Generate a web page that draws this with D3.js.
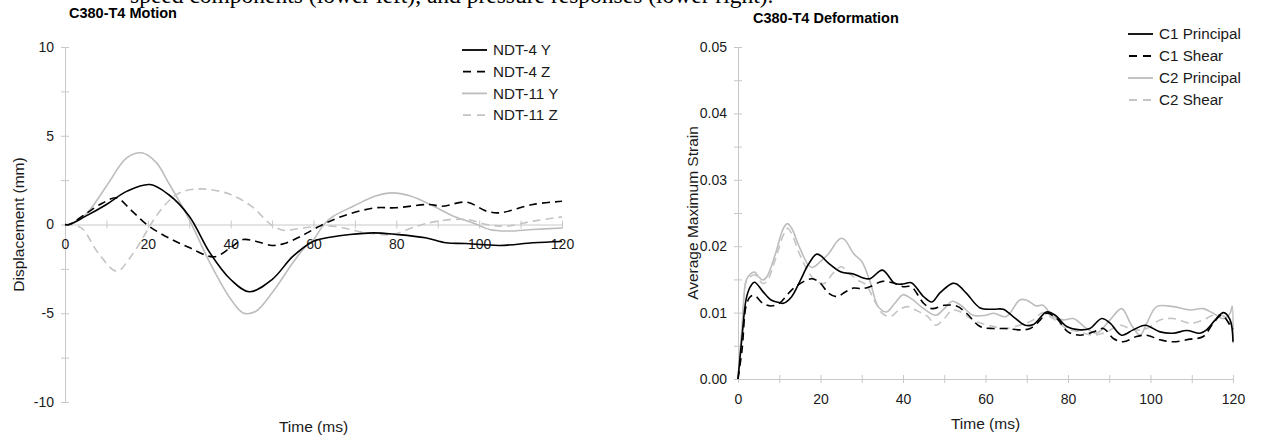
<!DOCTYPE html>
<html>
<head>
<meta charset="utf-8">
<script src="https://cdn.jsdelivr.net/npm/d3@7"></script>
<style>
  html, body { margin: 0; padding: 0; background: #fff; }
  svg { display: block; font-family: "Liberation Sans", Arial, sans-serif; }
</style>
</head>
<body>
<svg id="chart" width="1261" height="437"></svg>
<script>
// ---- data: motion panel (time ms, displacement mm) ----
const ndt4Y = [[0,0],[1,0],[5,0.47],[10,1.13],[15,1.88],[20.5,2.25],[25,1.69],[30,0.47],[35,-1.6],[40,-3.1],[44.5,-3.79],[50,-3.1],[55,-1.8],[60,-0.94],[64,-0.72],[68.8,-0.56],[74.5,-0.47],[80,-0.56],[87,-0.75],[92,-1.03],[96.6,-1.07],[105,-1.18],[113,-1.03],[120,-0.96]];
const ndt4Z = [[0,0],[1,0],[5,0.6],[9,1.2],[12.5,1.5],[16,0.8],[20,-0.05],[25,-0.75],[30,-1.3],[36,-1.82],[40,-1.3],[43,-0.85],[46,-0.94],[50,-1.18],[53,-1.07],[57,-0.66],[61.5,-0.09],[67,0.47],[75,0.94],[79.7,0.94],[88,1.13],[91,1.03],[97,1.26],[101.8,0.75],[105,0.66],[113,1.13],[120,1.31]];
const ndt11Y = [[0,0],[1,0],[5,0.56],[10,2.16],[14.9,3.75],[18.5,4.04],[22,3.5],[25,2.35],[30,0.28],[35,-2.16],[40,-4.2],[43,-4.98],[46,-4.9],[50,-3.85],[55,-2.16],[57.5,-1.4],[60,-0.85],[62.5,0.0],[64.7,0.45],[69.6,1.03],[75,1.6],[79,1.78],[83.4,1.6],[89,1.03],[93.8,0.47],[98.5,0.09],[102.5,-0.28],[106.6,-0.37],[113,-0.28],[120,-0.2]];
const ndt11Z = [[0,0],[1,0],[4,-0.2],[8,-1.6],[12.5,-2.63],[16,-1.78],[20,-0.28],[22,0.47],[25,1.31],[28,1.82],[31.8,2.0],[35,1.97],[40,1.69],[45,1.03],[50,-0.05],[53,-0.34],[55,-0.28],[60,-0.13],[64.7,-0.09],[72.8,-0.47],[79,-0.56],[85,-0.09],[90,0.19],[97,0.28],[101.8,0.0],[106.6,-0.09],[113,0.19],[120,0.43]];

// ---- data: deformation panel (time ms, average maximum strain) ----
const c1Principal = [[0,0],[1,0.0065],[2,0.0121],[3,0.0139],[4,0.01456],[6,0.0132],[8,0.0119],[10,0.0115],[11,0.0114],[13,0.0124],[15,0.0147],[17,0.0172],[19,0.0188],[20,0.0186],[22,0.0174],[25,0.0161],[28,0.0158],[30,0.0153],[32,0.0151],[35,0.0164],[38,0.0144],[40,0.0143],[42,0.0145],[45,0.0124],[47,0.0116],[49,0.0130],[52,0.0144],[53,0.0143],[55.4,0.0129],[58.7,0.0107],[61.9,0.0105],[64.3,0.0105],[66.7,0.0094],[69.6,0.0081],[71.6,0.0082],[74.8,0.0101],[76.9,0.0096],[79.7,0.0079],[82.9,0.0074],[85.3,0.0076],[88.2,0.0091],[90.2,0.0084],[93,0.0066],[95.8,0.0074],[98.7,0.0081],[102.3,0.0071],[105.5,0.0069],[108.8,0.0073],[112,0.0069],[113.6,0.0074],[115.7,0.0089],[117.7,0.0100],[119.3,0.0089],[120,0.0056]];
const c1Shear = [[0,0],[1,0.0045],[2,0.0111],[3,0.0124],[4,0.0126],[6,0.0114],[8,0.0110],[10,0.0114],[13,0.0134],[16,0.0147],[18,0.0151],[20,0.0144],[22,0.0129],[24,0.0124],[26,0.0131],[28,0.0137],[30,0.0136],[32,0.0139],[35,0.0147],[38,0.0144],[40,0.0139],[42,0.0139],[45,0.0114],[47,0.0106],[50,0.0111],[53,0.0110],[55.4,0.0099],[58.7,0.0079],[61.9,0.0076],[65,0.0076],[68.3,0.0074],[70.8,0.0076],[73.3,0.0089],[74.8,0.0099],[77.3,0.0091],[80,0.0071],[82.9,0.0066],[86.2,0.0071],[88.6,0.0076],[91,0.0061],[93.4,0.0056],[96.6,0.0064],[99.1,0.0066],[102.3,0.0059],[105.5,0.0056],[109.6,0.0060],[112.8,0.0064],[115.2,0.0084],[117.3,0.0096],[119.3,0.0081],[120,0.0075]];
const c2Principal = [[0,0],[1,0.0080],[2,0.0149],[3,0.0158],[4,0.0161],[5,0.0154],[6,0.0149],[7,0.0154],[9,0.0187],[11,0.0227],[12,0.0234],[13,0.0227],[15,0.0197],[17,0.0172],[18,0.0168],[20,0.0177],[22,0.0189],[24,0.0207],[25,0.0212],[26,0.0209],[28,0.0189],[30,0.0177],[32,0.0147],[34,0.0109],[36,0.0101],[38,0.0114],[40,0.0127],[42,0.0121],[45,0.0106],[48,0.0096],[50,0.0106],[52,0.0117],[54,0.0111],[57,0.0096],[60,0.0096],[62,0.0099],[65,0.0094],[68.3,0.0119],[69.9,0.0119],[72.3,0.0110],[73.9,0.0111],[76.4,0.0094],[78.9,0.0089],[81.3,0.0091],[84.5,0.0076],[86.9,0.0069],[90.2,0.0089],[93,0.0106],[95.4,0.0081],[97.5,0.0066],[99.1,0.0084],[101.5,0.0109],[105.5,0.0109],[109.6,0.0104],[112.8,0.0106],[115.2,0.0099],[117.7,0.0091],[119.3,0.0099],[119.8,0.0110],[120,0.0054]];
const c2Shear = [[0,0],[1,0.0075],[2,0.0147],[3,0.0154],[4,0.0157],[6,0.0144],[7,0.0147],[9,0.0179],[11,0.0217],[12,0.0227],[13,0.0219],[15,0.0187],[17,0.0162],[19,0.0147],[21,0.0144],[23,0.0159],[25,0.0169],[27,0.0159],[29,0.0149],[31,0.0142],[33,0.0119],[35,0.0099],[37,0.0094],[39,0.0104],[41,0.0109],[43,0.0104],[46,0.0094],[48,0.0081],[50,0.0091],[52,0.0104],[54,0.0101],[57,0.0089],[59,0.0084],[62,0.0079],[65,0.0076],[68.3,0.0081],[71.6,0.0089],[73.9,0.0100],[76.4,0.0091],[79.7,0.0076],[82.9,0.0071],[86.2,0.0066],[89.4,0.0071],[92.6,0.0081],[95.8,0.0074],[99.1,0.0076],[102.3,0.0089],[105.5,0.0091],[109.6,0.0084],[112.8,0.0089],[115.2,0.0096],[117.7,0.0095],[120,0.0079]];

const motionSeries = [
  { name: 'NDT-4 Y', values: ndt4Y, color: '#000', dash: null },
  { name: 'NDT-4 Z', values: ndt4Z, color: '#000', dash: '8,5' },
  { name: 'NDT-11 Y', values: ndt11Y, color: '#bdbdbd', dash: null },
  { name: 'NDT-11 Z', values: ndt11Z, color: '#c4c4c4', dash: '8,5' },
];
const strainSeries = [
  { name: 'C1 Principal', values: c1Principal, color: '#000', dash: null },
  { name: 'C1 Shear', values: c1Shear, color: '#000', dash: '8,5' },
  { name: 'C2 Principal', values: c2Principal, color: '#bdbdbd', dash: null },
  { name: 'C2 Shear', values: c2Shear, color: '#c4c4c4', dash: '8,5' },
];

const svg = d3.select('#chart');
const AXIS = '#c8c8c8';
const TXT = '#1a1a1a';

// cropped caption line from the page above the figure (only its lower edge shows)
svg.append('text')
  .attr('x', 130).attr('y', 3)
  .attr('font-family', '"Liberation Serif", serif')
  .attr('font-size', 23.5)
  .attr('fill', '#000')
  .text('speed components (lower left), and pressure responses (lower right).');

function panel({ xRange, yRange, yDomain, yMajor, yMinorStep, yFmt, title, titleX, titleY, yLabel, yLabelX, xLabelY, series, legend }) {
  const x = d3.scaleLinear().domain([0, 120]).range(xRange);
  const y = d3.scaleLinear().domain(yDomain).range(yRange);
  const g = svg.append('g');

  // y axis with crossing ticks
  const yTicks = d3.range(yDomain[0], yDomain[1] + yMinorStep / 2, yMinorStep);
  const yAx = g.append('g')
    .attr('transform', `translate(${xRange[0]},0)`)
    .call(d3.axisLeft(y).tickValues(yTicks).tickSizeOuter(0).tickSizeInner(4)
      .tickFormat((d) => (yMajor(d) ? yFmt(d) : '')));
  yAx.select('.domain').attr('stroke', AXIS);
  yAx.selectAll('.tick line').attr('stroke', AXIS).attr('x1', -4).attr('x2', 4);
  yAx.selectAll('.tick text').attr('x', -11).attr('fill', TXT)
    .style('font-size', '14px').style('font-family', '"Liberation Sans", Arial, sans-serif');

  // x axis through zero with crossing ticks
  const xAx = g.append('g')
    .attr('transform', `translate(0,${y(0)})`)
    .call(d3.axisBottom(x).tickValues(d3.range(0, 121, 10)).tickSizeOuter(0).tickSizeInner(4)
      .tickFormat((d) => (d % 20 === 0 ? d : '')));
  xAx.select('.domain').attr('stroke', AXIS);
  xAx.selectAll('.tick line').attr('stroke', AXIS).attr('y1', -4).attr('y2', 4);
  xAx.selectAll('.tick text').attr('y', 15).attr('fill', TXT)
    .style('font-size', '14px').style('font-family', '"Liberation Sans", Arial, sans-serif');

  const line = d3.line()
    .x((d) => x(d[0]))
    .y((d) => y(d[1]))
    .curve(d3.curveCatmullRom.alpha(0.5));

  // grey series below, black on top
  const order = [series[2], series[3], series[0], series[1]];
  g.append('g')
    .selectAll('path')
    .data(order)
    .join('path')
    .attr('fill', 'none')
    .attr('stroke', (d) => d.color)
    .attr('stroke-width', 1.6)
    .attr('stroke-dasharray', (d) => d.dash)
    .attr('d', (d) => line(d.values));

  // titles
  g.append('text')
    .attr('x', titleX).attr('y', titleY)
    .attr('font-weight', 'bold').attr('font-size', 14.5).attr('fill', '#000')
    .text(title);
  g.append('text')
    .attr('x', (xRange[0] + xRange[1]) / 2).attr('y', xLabelY)
    .attr('text-anchor', 'middle').attr('font-size', 15.5).attr('fill', TXT)
    .text('Time (ms)');
  g.append('text')
    .attr('transform', `translate(${yLabelX},${(yRange[0] + yRange[1]) / 2}) rotate(-90)`)
    .attr('text-anchor', 'middle').attr('dy', '0.35em')
    .attr('font-size', 15.5).attr('fill', TXT)
    .text(yLabel);

  // legend
  const lg = g.append('g').selectAll('g').data(series).join('g')
    .attr('transform', (d, i) => `translate(${legend.x},${legend.y + i * legend.step})`);
  lg.append('line')
    .attr('x1', 0).attr('x2', 25).attr('y1', 0).attr('y2', 0)
    .attr('stroke', (d) => d.color).attr('stroke-width', 1.8)
    .attr('stroke-dasharray', (d) => (d.dash ? '8,6' : null))
    .attr('stroke-dashoffset', (d) => (d.dash ? -1 : 0));
  lg.append('text')
    .attr('x', 31).attr('dy', '0.35em')
    .attr('font-size', 15.2).attr('fill', TXT)
    .text((d) => d.name);
}

panel({
  xRange: [65, 562], yRange: [402, 47], yDomain: [-10, 10],
  yMajor: (d) => d % 5 === 0, yMinorStep: 2.5, yFmt: (d) => String(d),
  title: 'C380-T4 Motion', titleX: 69, titleY: 18,
  yLabel: 'Displacement (mm)', yLabelX: 19, xLabelY: 432,
  series: motionSeries, legend: { x: 462, y: 50, step: 21.7 },
});

panel({
  xRange: [738, 1233], yRange: [379, 47], yDomain: [0, 0.05],
  yMajor: (d) => Math.abs(d * 100 - Math.round(d * 100)) < 1e-6, yMinorStep: 0.005, yFmt: d3.format('.2f'),
  title: 'C380-T4 Deformation', titleX: 753, titleY: 23,
  yLabel: 'Average Maximum Strain', yLabelX: 693, xLabelY: 429,
  series: strainSeries, legend: { x: 1128, y: 34, step: 22 },
});
</script>
</body>
</html>
